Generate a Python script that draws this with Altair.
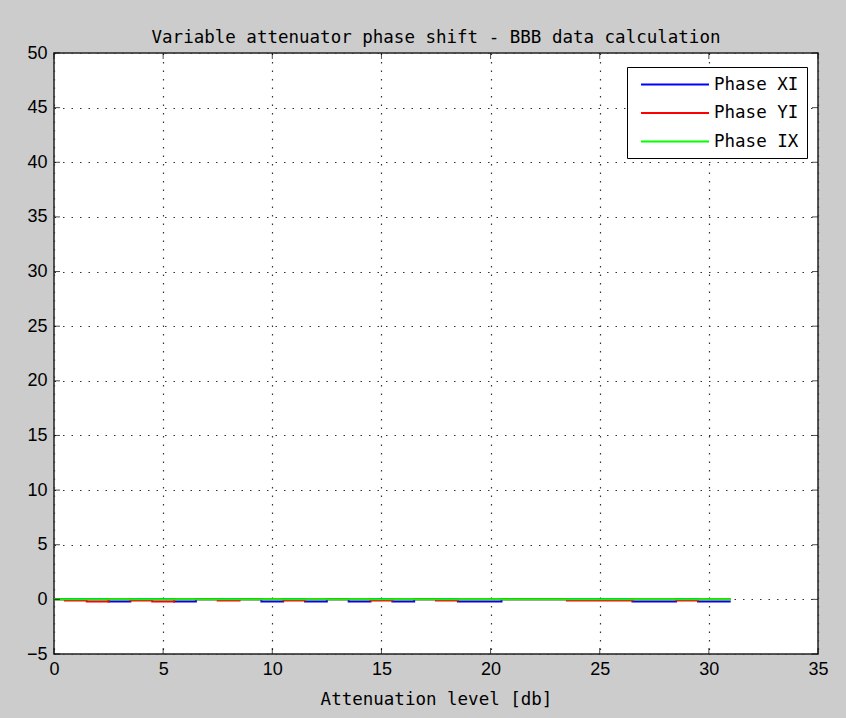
import altair as alt
import pandas as pd

# ---- data ----
atten = list(range(0, 32))
phase_xi = [0, 0, 0, -0.2, 0, 0, -0.2, 0, 0, 0, -0.2, 0, -0.2, 0, -0.2, 0,
            -0.2, 0, 0, -0.2, -0.2, 0, 0, 0, 0, 0, 0, -0.2, -0.2, 0, -0.2, -0.2]
phase_yi = [0, -0.1, -0.2, 0, -0.1, -0.2, 0, 0, -0.1, 0, 0, -0.1, 0, 0, 0, -0.1,
            0, 0, -0.1, 0, 0, 0, 0, 0, -0.1, -0.1, -0.1, 0, 0, -0.1, 0, 0]
phase_ix = [0] * 32
series_names = ["Phase XI", "Phase YI", "Phase IX"]
series_colors = ["#0000ff", "#ff0000", "#00ff00"]
x_ticks = [0, 5, 10, 15, 20, 25, 30, 35]
y_ticks = [-5, 0, 5, 10, 15, 20, 25, 30, 35, 40, 45, 50]

rows = []
for name, vals in zip(series_names, [phase_xi, phase_yi, phase_ix]):
    for a, v in zip(atten, vals):
        rows.append({"atten": a, "phase": v, "series": name})
df = pd.DataFrame(rows)

W, H = 764, 601
MONO = "DejaVu Sans Mono"
SANS = "Liberation Sans"

xscale = alt.Scale(domain=[0, 35], nice=False, zero=False)
yscale = alt.Scale(domain=[-5, 50], nice=False, zero=False)
color = alt.Color(
    "series:N",
    scale=alt.Scale(domain=series_names, range=series_colors),
    sort=series_names,
    legend=alt.Legend(title=None, orient="none", legendX=573, legendY=14,
                      symbolType="M-0.41,0H7.59", symbolSize=289, symbolStrokeWidth=2,
                      labelFont=MONO, labelFontSize=17.5, labelColor="black",
                      strokeColor="black", fillColor="white", padding=8,
                      rowPadding=10.5, labelOffset=60),
)

xaxis = alt.Axis(values=x_ticks, title="Attenuation level [db]", grid=True,
                 domain=False, ticks=False, labelFont=SANS, labelFontSize=18,
                 labelColor="black", labelPadding=6, titleFont=MONO,
                 titleFontSize=17.5, titleFontWeight="normal", titleColor="black",
                 titlePadding=12, labelFlush=False)
yaxis = alt.Axis(values=y_ticks, title=None, grid=True, domain=False, ticks=False,
                 labelFont=SANS, labelFontSize=18, labelColor="black",
                 labelPadding=7, labelFlush=False)

layers = []
for name in series_names:
    layers.append(
        alt.Chart(df).transform_filter(alt.datum.series == name)
        .mark_line(strokeWidth=2, clip=True, interpolate="step")
        .encode(x=alt.X("atten:Q", scale=xscale, axis=xaxis),
                y=alt.Y("phase:Q", scale=yscale, axis=yaxis),
                color=color)
    )

xt = pd.DataFrame({"v": x_ticks})
yt = pd.DataFrame({"v": y_ticks})
tick_bottom = alt.Chart(xt).mark_tick(size=6, thickness=1, color="black").encode(
    x=alt.X("v:Q", scale=xscale), y=alt.value(H - 3))
tick_top = alt.Chart(xt).mark_tick(size=6, thickness=1, color="black").encode(
    x=alt.X("v:Q", scale=xscale), y=alt.value(3))
tick_left = alt.Chart(yt).mark_tick(size=6, thickness=1, color="black").encode(
    y=alt.Y("v:Q", scale=yscale), x=alt.value(3))
tick_right = alt.Chart(yt).mark_tick(size=6, thickness=1, color="black").encode(
    y=alt.Y("v:Q", scale=yscale), x=alt.value(W - 3))

chart = alt.layer(*layers, tick_bottom, tick_top, tick_left, tick_right).properties(
    width=W, height=H,
    title=alt.TitleParams("Variable attenuator phase shift - BBB data calculation",
                          font=MONO, fontSize=17.5, fontWeight="normal",
                          color="black", anchor="middle", offset=-2),
    autosize=alt.AutoSizeParams(type="none"),
    padding={"left": 54, "top": 53, "right": 28, "bottom": 64},
    background="#cccccc",
).configure_view(
    fill="white", stroke="#222222", strokeWidth=1.5
).configure_axis(
    gridColor="#333333", gridDash=[1.5, 7], gridWidth=1.2, gridOpacity=1
)

chart.save("out.html", embed_options={"renderer": "svg", "actions": False})
